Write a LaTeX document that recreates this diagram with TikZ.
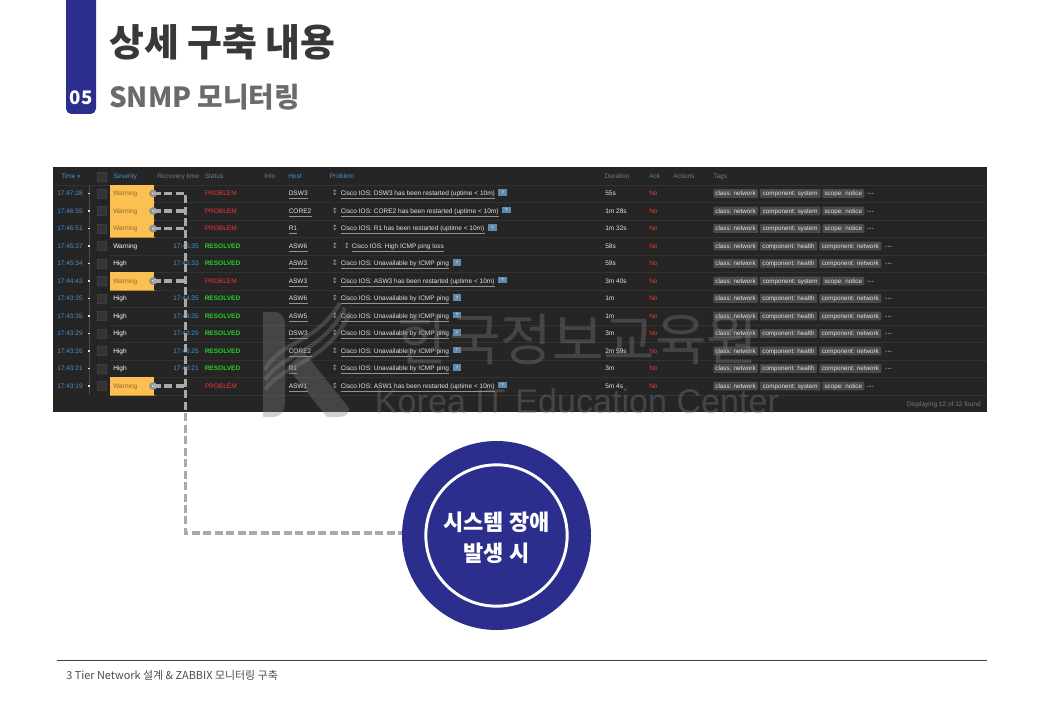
\documentclass[tikz,border=0pt]{standalone}
\usepackage{fontspec}
\setmainfont{Liberation Sans}
\newfontfamily\kr{Noto Sans CJK KR}
\newcommand\krb{\kr\bfseries}
\newfontfamily\djf{DejaVu Sans}
\usetikzlibrary{calc}
\definecolor{navy}{HTML}{2B2E8C}
\definecolor{tablebg}{HTML}{252525}
\definecolor{rowline}{HTML}{323232}
\definecolor{linkblue}{HTML}{4A90CC}
\definecolor{headgray}{HTML}{7A7A7A}
\definecolor{cellgray}{HTML}{E4E4E4}
\definecolor{warnbg}{HTML}{FCBF52}
\definecolor{warntext}{HTML}{8E6C2C}
\definecolor{warnsep}{HTML}{B88A36}
\definecolor{probred}{HTML}{F03636}
\definecolor{resgreen}{HTML}{22D022}
\definecolor{taggray}{HTML}{4A4A4A}
\definecolor{dashgray}{HTML}{A9A9A9}
\definecolor{chkfill}{HTML}{343434}
\definecolor{chkline}{HTML}{3E3E3E}
\tikzset{
  x=0.75pt,y=-0.75pt,
  cell/.style={inner sep=0pt,anchor=west,text height=3.6pt,text depth=0pt,font=\fontsize{4.9}{6}\selectfont,text=cellgray},
  head/.style={cell,text=headgray},
  headlink/.style={cell,text=linkblue},
  timecell/.style={cell,text=linkblue},
  recov/.style={cell,anchor=east,text=linkblue},
  tagbox/.style={fill=taggray,rounded corners=0.6pt,inner sep=0pt,minimum height=6.4pt,anchor=west,text height=3.4pt,text depth=0pt,font=\fontsize{4.7}{6}\selectfont,text=cellgray},
  dashline/.style={draw=dashgray,line width=2.4pt,dash pattern=on 6pt off 2.6pt},
  chk/.style={draw=chkline,fill=chkfill,line width=0.4pt},
  warncell/.style={fill=warnbg,inner sep=0pt,minimum width=33pt,minimum height=13.1pt,anchor=west},
  warndot/.style={circle,fill=gray!85,draw=gray!85,inner sep=0pt,minimum size=5.5pt},
  wmark/.style={text=gray,opacity=0.36,inner sep=0pt},
  linkline/.style={draw=gray!85,line width=0.35pt},
  dotsmark/.style={cell,text=gray!80,font=\fontsize{3.6}{5}\selectfont},
}
\begin{document}
\begin{tikzpicture}
\useasboundingbox (0,0) rectangle (1040,720);
\fill[white] (0,0) rectangle (1040,720);

% header
\begin{scope}
\clip (0,0) rectangle (1040,720);
\fill[navy,rounded corners=4pt] (66,-10) rectangle (96,114);
\end{scope}
\node[inner sep=0pt,text=white,font=\krb\fontsize{14}{18}\selectfont] (num) at (81,98) {05};
\node[inner sep=0pt,anchor=west,text=black!78,font=\krb\fontsize{28.4}{36}\selectfont] (title) at (109,42) {상세 구축 내용};
\node[inner sep=0pt,anchor=west,text=black!58,font=\krb\fontsize{20.8}{28}\selectfont] (subtitle) at (109,97) {SNMP 모니터링};

% table
\fill[tablebg] (53,167) rectangle (987,412);
\draw[rowline,line width=0.5pt] (53,185)--(987,185);
\node[headlink] (hT) at (61,176) {Time {\djf\fontsize{4}{5}\selectfont ▾}};
\draw[chk] (97,172) rectangle (106,181);
\node[headlink] (hS) at (113,176) {Severity};
\node[head] (hR) at (157,176) {Recovery time};
\node[head] (hSt) at (204.5,176) {Status};
\node[head] (hI) at (264,176) {Info};
\node[headlink] (hH) at (288,176) {Host};
\node[headlink] (hP) at (329.5,176) {Problem};
\node[head] (hD) at (604.5,176) {Duration};
\node[head] (hA) at (649,176) {Ack};
\node[head] (hAc) at (673,176) {Actions};
\node[head] (hTg) at (713,176) {Tags};
\node[head,anchor=east] (foot) at (981,404) {Displaying 12 of 12 found};

\draw[gray!60!black,line width=0.5pt] (89,186)--(89,395);

\foreach \n/\yy/\tm/\sev/\rec/\st/\host/\prx/\prob/\ic/\dur/\tg in {
 1/193.5/17:47:28/{}/{}/P/DSW3/340.5/{Cisco IOS: DSW3 has been restarted (uptime < 10m)}/1/55s/s,
 2/211/17:46:55/{}/{}/P/CORE2/340.5/{Cisco IOS: CORE2 has been restarted (uptime < 10m)}/1/1m 28s/s,
 3/228.5/17:46:51/{}/{}/P/R1/340.5/{Cisco IOS: R1 has been restarted (uptime < 10m)}/1/1m 32s/s,
 4/246/17:45:37/Warning/17:45:35/R/ASW6/351.5/{Cisco IOS: High ICMP ping loss}/0/58s/h,
 5/263.5/17:45:34/High/17:45:33/R/ASW3/340.5/{Cisco IOS: Unavailable by ICMP ping}/1/59s/h,
 6/281/17:44:43/{}/{}/P/ASW3/340.5/{Cisco IOS: ASW3 has been restarted (uptime < 10m)}/1/3m 40s/s,
 7/298.5/17:43:35/High/17:44:35/R/ASW6/340.5/{Cisco IOS: Unavailable by ICMP ping}/1/1m/h,
 8/316/17:43:35/High/17:44:35/R/ASW5/340.5/{Cisco IOS: Unavailable by ICMP ping}/1/1m/h,
 9/333.5/17:43:29/High/17:43:29/R/DSW3/340.5/{Cisco IOS: Unavailable by ICMP ping}/1/3m/h,
 10/351/17:43:26/High/17:43:25/R/CORE2/340.5/{Cisco IOS: Unavailable by ICMP ping}/1/2m 59s/h,
 11/368.5/17:43:21/High/17:43:21/R/R1/340.5/{Cisco IOS: Unavailable by ICMP ping}/1/3m/h,
 12/386/17:43:19/{}/{}/P/ASW1/340.5/{Cisco IOS: ASW1 has been restarted (uptime < 10m)}/1/5m 4s/s%
}{
  \draw[rowline,line width=0.3pt] (110,\yy+8.75)--(987,\yy+8.75);
  \node[timecell] (t\n) at (57,\yy) {\tm};
  \fill[cellgray] (87.8,\yy-0.6) rectangle (90.2,\yy+0.6);
  \draw[chk] (97,\yy-4.5) rectangle (106,\yy+4.5);
  \node[cell,text=white] (sv\n) at (113,\yy) {\sev};
  \node[recov] (rc\n) at (199,\yy) {\rec};
  \if\st P
    \node[cell,text=probred] (st\n) at (204.5,\yy) {PROBLEM};
  \else
    \node[cell,text=resgreen,font=\fontsize{4.9}{6}\selectfont\bfseries] (st\n) at (204.5,\yy) {RESOLVED};
  \fi
  \node[cell] (ho\n) at (288.5,\yy) {\host};
  \draw[linkline] ($(ho\n.south west)+(0,2.2)$)--($(ho\n.south east)+(0,2.2)$);
  \node[cell,text=gray!75,font=\djf\fontsize{5.5}{6}\selectfont] (ar\n) at (331.5,\yy) {↕};
  \node[cell] (pr\n) at (\prx,\yy) {\prob};
  \draw[linkline] ($(pr\n.south west)+(0,2.2)$)--($(pr\n.south east)+(0,2.2)$);
  \ifnum\ic=1
    \node[anchor=west,fill=linkblue!60!gray,inner sep=0pt,minimum width=6.6pt,minimum height=4.8pt,text=white,font=\fontsize{3.5}{4}\selectfont] (ic\n) at ($(pr\n.east)+(3,-1)$) {?};
  \else
    \node[cell,text=gray!75,font=\djf\fontsize{5.5}{6}\selectfont] (arb\n) at (343.5,\yy) {↕};
  \fi
  \node[cell] (du\n) at (605,\yy) {\dur};
  \node[cell,text=probred] (no\n) at (649,\yy) {No};
  \node[tagbox,minimum width=33.4pt] (ta\n) at (713,\yy) {class: network};
  \if\tg s
    \node[tagbox,minimum width=45.7pt] (tb\n) at (759.5,\yy) {component: system};
    \node[tagbox,minimum width=31.5pt] (tc\n) at (822,\yy) {scope: notice};
    \node[dotsmark] (td\n) at (867,\yy) {•\,•\,•};
  \else
    \node[tagbox,minimum width=43pt] (tb\n) at (759.5,\yy) {component: health};
    \node[tagbox,minimum width=46.5pt] (tc\n) at (819,\yy) {component: network};
    \node[dotsmark] (td\n) at (885,\yy) {•\,•\,•};
  \fi
}

% warning cells
\foreach \n/\yy in {1/193.5,2/211,3/228.5,6/281,12/386}{
  \node[warncell] (w\n) at (110,\yy) {};
  \draw[warnsep,line width=0.4pt] (w\n.south west) -- (w\n.south east);
  \node[cell,text=warntext] (wt\n) at (113,\yy) {Warning};
  \node[warndot] (dot\n) at (153,\yy) {};
  \fill[white!85!gray] (dot\n.center) circle (0.9pt);
}

% watermark
\begin{scope}[opacity=0.36]
  \fill[gray] (263,312) -- (274,312) .. controls (282,312) and (285,318) .. (285,326) -- (285,400) .. controls (285,410) and (282,417) .. (272,417) -- (263,417) -- cycle;
  \fill[gray] (287,367) -- (304,352) -- (349,408) .. controls (350,414) and (345,417) .. (338,417) -- (327,417) -- cycle;
  \draw[gray,line width=3pt] (265,370) .. controls (280,340) and (315,345) .. (340,303);
  \draw[gray,line width=3pt] (265,380) .. controls (283,352) and (320,355) .. (345,308);
  \draw[gray,line width=3pt] (265,390) .. controls (285,362) and (325,365) .. (350,313);
\end{scope}
\node[wmark,font=\kr\fontsize{42}{50}\selectfont] (wk) at (578,340) {한국정보교육원};
\node[wmark,font=\fontsize{25.6}{32}\selectfont] (we) at (577,401) {Korea IT Education Center};

% circle and connector
\node[circle,fill=navy,inner sep=0pt,minimum size=141.75pt] (outer) at (496.5,535.5) {};
\node[circle,draw=white,line width=2.2pt,inner sep=0pt,minimum size=106pt,align=center,text=white] (inner) at (outer.center) {};
\node[inner sep=0pt,text=white,font=\krb\fontsize{16.5}{20}\selectfont] (l1) at (496.5,522) {시스템 장애};
\node[inner sep=0pt,text=white,font=\krb\fontsize{16.5}{20}\selectfont] (l2) at (496.5,553) {발생 시};

\coordinate (corner) at (185.5,533);
\draw[dashline] (dot1.center) -- (dot1 -| corner) -- (corner) -- (outer.west |- corner);
\foreach \n in {2,3,6,12}{
  \draw[dashline] (dot\n.center) -- (dot\n -| corner);
}

% footer
\draw[black!75,line width=0.75pt] (57,660.5) -- (987,660.5);
\node[inner sep=0pt,anchor=west,text=black!70,font=\kr\fontsize{8.2}{11}\selectfont] (foot2) at (66,675) {3 Tier Network 설계 \& ZABBIX 모니터링 구축};
\end{tikzpicture}
\end{document}
